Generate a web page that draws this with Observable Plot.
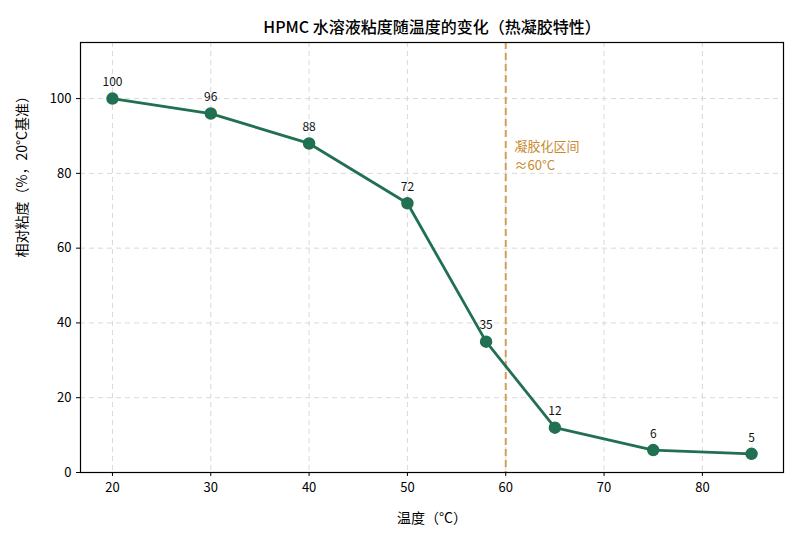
<!DOCTYPE html>
<html><head><meta charset="utf-8">
<script src="https://cdn.jsdelivr.net/npm/d3@7"></script>
<script src="https://cdn.jsdelivr.net/npm/@observablehq/plot@0.6"></script>
<style>body{margin:0;background:#fff;} svg{font-family:"Noto Sans CJK SC",sans-serif;}</style>
</head><body><div id="chart"></div>
<script>
const temps = [20, 30, 40, 50, 58, 65, 75, 85];
const viscosity = [100, 96, 88, 72, 35, 12, 6, 5];
const xTicks = [20, 30, 40, 50, 60, 70, 80];
const yTicks = [0, 20, 40, 60, 80, 100];
const gelTemp = 60;
const gelLabel = "凝胶化区间\n≈60°C";
const title = "HPMC 水溶液粘度随温度的变化（热凝胶特性）";
const xLabel = "温度（°C）";
const yLabel = "相对粘度（%，20°C基准）";

const data = temps.map((t, i) => ({t, v: viscosity[i]}));
const green = "#217051";
const gold = "#d4a055";

const chart = Plot.plot({
  width: 796, height: 541,
  marginTop: 42, marginBottom: 69, marginLeft: 80, marginRight: 13,
  style: {fontFamily: '"Noto Sans CJK SC", sans-serif', fontSize: "13px", color: "#000"},
  x: {domain: [16.75, 88.25], ticks: xTicks, label: null, tickSize: 4, tickPadding: 6},
  y: {domain: [0, 115], ticks: yTicks, label: null, tickSize: 4, tickPadding: 5},
  marks: [
    Plot.gridX(xTicks, {stroke: "#d0d0d0", strokeOpacity: 0.8, strokeDasharray: "5,4"}),
    Plot.gridY(yTicks, {stroke: "#d0d0d0", strokeOpacity: 0.8, strokeDasharray: "5,4"}),
    Plot.ruleX([gelTemp], {stroke: gold, strokeWidth: 2, strokeDasharray: "7,4"}),
    Plot.text([gelLabel], {x: gelTemp + 0.9, y: 89.5, text: d => d, textAnchor: "start", lineAnchor: "top", fill: "#c88a2e", fontSize: 13, lineHeight: 1.45}),
    Plot.line(data, {x: "t", y: "v", stroke: green, strokeWidth: 2.8}),
    Plot.dot(data, {x: "t", y: "v", r: 5.5, fill: green, stroke: green}),
    Plot.text(data, {x: "t", y: "v", text: d => String(d.v), dy: -16, fontSize: 12, fill: "#111"}),
    Plot.axisX({ticks: xTicks, tickSize: 4, tickPadding: 6, fontSize: 13, label: null}),
    Plot.axisY({ticks: yTicks, tickSize: 4, tickPadding: 5, fontSize: 13, label: null}),
    Plot.frame({stroke: "#000", strokeWidth: 1.2}),
    Plot.text([title], {frameAnchor: "top", dy: -21, text: d => d, fontSize: 16, fontWeight: 500, fill: "#000"}),
    Plot.text([xLabel], {frameAnchor: "bottom", dy: 50, text: d => d, fontSize: 14, fill: "#000"}),
    Plot.text([yLabel], {frameAnchor: "left", dx: -58, rotate: -90, text: d => d, fontSize: 14, fill: "#000"})
  ]
});
document.getElementById("chart").append(chart);
</script></body></html>
